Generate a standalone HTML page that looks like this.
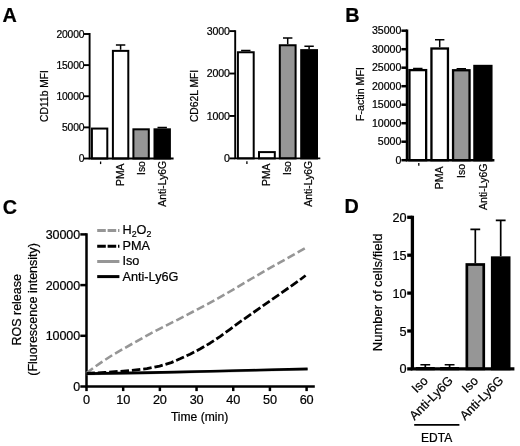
<!DOCTYPE html>
<html><head><meta charset="utf-8"><title>Figure</title>
<style>html,body{margin:0;padding:0;background:#fff}svg{display:block;filter:blur(0.45px)}text{font-family:"Liberation Sans",sans-serif;fill:#000;stroke:#000;stroke-width:0.22px}</style>
</head><body>
<svg width="520" height="446" viewBox="0 0 520 446">
<rect width="520" height="446" fill="#fff"/>
<text x="2.6" y="22.0" font-size="19.8" font-weight="bold" stroke-width="0.5">A</text>
<text x="345.2" y="22.0" font-size="19.8" font-weight="bold" stroke-width="0.5">B</text>
<text x="2.7" y="213.5" font-size="19.8" font-weight="bold" stroke-width="0.5">C</text>
<text x="344.6" y="212.9" font-size="19.8" font-weight="bold" stroke-width="0.5">D</text>
<rect x="91.9" y="128.56" width="15.4" height="29.94" fill="#fff" stroke="#000" stroke-width="2.0"/>
<path d="M120.6 49.87V45.02M115.9 45.02H125.3" stroke="#000" stroke-width="1.5" fill="none"/>
<rect x="112.9" y="50.87" width="15.4" height="107.63" fill="#fff" stroke="#000" stroke-width="2.0"/>
<rect x="133.4" y="129.31" width="15.4" height="29.19" fill="#969696" stroke="#000" stroke-width="2.0"/>
<path d="M162.2 128.31V127.5M157.5 127.5H166.9" stroke="#000" stroke-width="1.5" fill="none"/>
<rect x="154.5" y="129.31" width="15.4" height="29.19" fill="#000" stroke="#000" stroke-width="2.0"/>
<path d="M89.6 33.05V158.5M88.65 158.5H173.6" stroke="#000" stroke-width="1.9" fill="none"/>
<path d="M83.8 158.5H89.6" stroke="#000" stroke-width="1.9"/>
<text x="84.2" y="162.19" font-size="10.3" text-anchor="end" letter-spacing="-0.2">0</text>
<path d="M83.8 127.38H89.6" stroke="#000" stroke-width="1.9"/>
<text x="84.2" y="131.06" font-size="10.3" text-anchor="end" letter-spacing="-0.2">5000</text>
<path d="M83.8 96.25H89.6" stroke="#000" stroke-width="1.9"/>
<text x="84.2" y="99.94" font-size="10.3" text-anchor="end" letter-spacing="-0.2">10000</text>
<path d="M83.8 65.12H89.6" stroke="#000" stroke-width="1.9"/>
<text x="84.2" y="68.81" font-size="10.3" text-anchor="end" letter-spacing="-0.2">15000</text>
<path d="M83.8 34H89.6" stroke="#000" stroke-width="1.9"/>
<text x="84.2" y="37.69" font-size="10.3" text-anchor="end" letter-spacing="-0.2">20000</text>
<text transform="translate(47.6 70) rotate(-90)" font-size="10.3" text-anchor="end" >CD11b MFI</text>
<path d="M100.6 161.5V164.1" stroke="#000" stroke-width="1.3"/>
<text transform="translate(124.4 163.5) rotate(-90)" font-size="10.4" text-anchor="end" >PMA</text>
<text transform="translate(145.1 161.1) rotate(-90)" font-size="10.4" text-anchor="end" >Iso</text>
<text transform="translate(165.8 160.8) rotate(-90)" font-size="10.4" text-anchor="end" >Anti-Ly6G</text>
<path d="M245.8 51.26V50.49M241.1 50.49H250.5" stroke="#000" stroke-width="1.5" fill="none"/>
<rect x="237.9" y="52.26" width="15.8" height="106.14" fill="#fff" stroke="#000" stroke-width="2.0"/>
<rect x="259" y="152.1" width="15.8" height="6.3" fill="#fff" stroke="#000" stroke-width="2.0"/>
<path d="M287.7 44.25V37.89M283 37.89H292.4" stroke="#000" stroke-width="1.5" fill="none"/>
<rect x="279.8" y="45.25" width="15.8" height="113.15" fill="#969696" stroke="#000" stroke-width="2.0"/>
<path d="M309.1 49.13V46.25M304.4 46.25H313.8" stroke="#000" stroke-width="1.5" fill="none"/>
<rect x="301.2" y="50.13" width="15.8" height="108.27" fill="#000" stroke="#000" stroke-width="2.0"/>
<path d="M235.2 30.15V158.4M234.25 158.4H320.3" stroke="#000" stroke-width="1.9" fill="none"/>
<path d="M229.4 158.4H235.2" stroke="#000" stroke-width="1.9"/>
<text x="229.8" y="162.19" font-size="10.6" text-anchor="end" letter-spacing="-0.1">0</text>
<path d="M229.4 115.97H235.2" stroke="#000" stroke-width="1.9"/>
<text x="229.8" y="119.76" font-size="10.6" text-anchor="end" letter-spacing="-0.1">1000</text>
<path d="M229.4 73.53H235.2" stroke="#000" stroke-width="1.9"/>
<text x="229.8" y="77.33" font-size="10.6" text-anchor="end" letter-spacing="-0.1">2000</text>
<path d="M229.4 31.1H235.2" stroke="#000" stroke-width="1.9"/>
<text x="229.8" y="34.89" font-size="10.6" text-anchor="end" letter-spacing="-0.1">3000</text>
<text transform="translate(198.3 69.8) rotate(-90)" font-size="10.3" text-anchor="end" >CD62L MFI</text>
<path d="M246.9 161.3V163.9" stroke="#000" stroke-width="1.3"/>
<text transform="translate(270.4 163.5) rotate(-90)" font-size="10.4" text-anchor="end" >PMA</text>
<text transform="translate(291.3 161.1) rotate(-90)" font-size="10.4" text-anchor="end" >Iso</text>
<text transform="translate(312.4 160.8) rotate(-90)" font-size="10.4" text-anchor="end" >Anti-Ly6G</text>
<path d="M417.8 68.96V68.59M413.1 68.59H422.5" stroke="#000" stroke-width="1.5" fill="none"/>
<rect x="409.45" y="70.11" width="16.7" height="90.09" fill="#fff" stroke="#000" stroke-width="2.3"/>
<path d="M439.7 47.35V39.65M435 39.65H444.4" stroke="#000" stroke-width="1.5" fill="none"/>
<rect x="431.45" y="48.5" width="16.5" height="111.7" fill="#fff" stroke="#000" stroke-width="2.3"/>
<path d="M461.3 69.11V68.74M456.6 68.74H466" stroke="#000" stroke-width="1.5" fill="none"/>
<rect x="453.05" y="70.26" width="16.5" height="89.94" fill="#969696" stroke="#000" stroke-width="2.3"/>
<rect x="474.4" y="65.96" width="17" height="94.24" fill="#000" stroke="#000" stroke-width="2.3"/>
<path d="M407 29.45V160.2M405.75 160.2H494.4" stroke="#000" stroke-width="2.5" fill="none"/>
<path d="M401.4 160.2H407" stroke="#000" stroke-width="2.5"/>
<text x="401.4" y="163.99" font-size="10.6" text-anchor="end" letter-spacing="0">0</text>
<path d="M401.4 141.7H407" stroke="#000" stroke-width="2.5"/>
<text x="401.4" y="145.49" font-size="10.6" text-anchor="end" letter-spacing="0">5000</text>
<path d="M401.4 123.2H407" stroke="#000" stroke-width="2.5"/>
<text x="401.4" y="126.99" font-size="10.6" text-anchor="end" letter-spacing="0">10000</text>
<path d="M401.4 104.7H407" stroke="#000" stroke-width="2.5"/>
<text x="401.4" y="108.49" font-size="10.6" text-anchor="end" letter-spacing="0">15000</text>
<path d="M401.4 86.2H407" stroke="#000" stroke-width="2.5"/>
<text x="401.4" y="89.99" font-size="10.6" text-anchor="end" letter-spacing="0">20000</text>
<path d="M401.4 67.7H407" stroke="#000" stroke-width="2.5"/>
<text x="401.4" y="71.49" font-size="10.6" text-anchor="end" letter-spacing="0">25000</text>
<path d="M401.4 49.2H407" stroke="#000" stroke-width="2.5"/>
<text x="401.4" y="52.99" font-size="10.6" text-anchor="end" letter-spacing="0">30000</text>
<path d="M401.4 30.7H407" stroke="#000" stroke-width="2.5"/>
<text x="401.4" y="34.49" font-size="10.6" text-anchor="end" letter-spacing="0">35000</text>
<text transform="translate(363.6 94) rotate(-90)" font-size="10.7" text-anchor="middle" >F-actin MFI</text>
<path d="M418.8 163.1V165.7" stroke="#000" stroke-width="1.3"/>
<text transform="translate(443.3 166.4) rotate(-90)" font-size="10.5" text-anchor="end" >PMA</text>
<text transform="translate(465.3 164) rotate(-90)" font-size="10.5" text-anchor="end" >Iso</text>
<text transform="translate(486.6 163.6) rotate(-90)" font-size="10.5" text-anchor="end" >Anti-Ly6G</text>
<path d="M86.5 233.15V386.5M85.25 386.5H314.8" stroke="#000" stroke-width="2.5" fill="none"/>
<path d="M80.3 386.5H86.5" stroke="#000" stroke-width="2.5"/>
<text x="80.0" y="390.9" font-size="12.5" text-anchor="end" letter-spacing="-0.1">0</text>
<path d="M80.3 335.8H86.5" stroke="#000" stroke-width="2.5"/>
<text x="80.0" y="340.2" font-size="12.5" text-anchor="end" letter-spacing="-0.1">10000</text>
<path d="M80.3 285.1H86.5" stroke="#000" stroke-width="2.5"/>
<text x="80.0" y="289.5" font-size="12.5" text-anchor="end" letter-spacing="-0.1">20000</text>
<path d="M80.3 234.4H86.5" stroke="#000" stroke-width="2.5"/>
<text x="80.0" y="238.8" font-size="12.5" text-anchor="end" letter-spacing="-0.1">30000</text>
<path d="M86.5 386.5V391.1" stroke="#000" stroke-width="2.5"/>
<text x="86.5" y="404.3" font-size="12.7" text-anchor="middle" letter-spacing="-0.15">0</text>
<path d="M123.18 386.5V391.1" stroke="#000" stroke-width="2.5"/>
<text x="123.18" y="404.3" font-size="12.7" text-anchor="middle" letter-spacing="-0.15">10</text>
<path d="M159.87 386.5V391.1" stroke="#000" stroke-width="2.5"/>
<text x="159.87" y="404.3" font-size="12.7" text-anchor="middle" letter-spacing="-0.15">20</text>
<path d="M196.55 386.5V391.1" stroke="#000" stroke-width="2.5"/>
<text x="196.55" y="404.3" font-size="12.7" text-anchor="middle" letter-spacing="-0.15">30</text>
<path d="M233.23 386.5V391.1" stroke="#000" stroke-width="2.5"/>
<text x="233.23" y="404.3" font-size="12.7" text-anchor="middle" letter-spacing="-0.15">40</text>
<path d="M269.92 386.5V391.1" stroke="#000" stroke-width="2.5"/>
<text x="269.92" y="404.3" font-size="12.7" text-anchor="middle" letter-spacing="-0.15">50</text>
<path d="M306.6 386.5V391.1" stroke="#000" stroke-width="2.5"/>
<text x="306.6" y="404.3" font-size="12.7" text-anchor="middle" letter-spacing="-0.15">60</text>
<text x="199.6" y="420.6" font-size="12.1" text-anchor="middle">Time (min)</text>
<text transform="translate(20.8 309.8) rotate(-90)" font-size="12.5" text-anchor="middle" >ROS release</text>
<text transform="translate(37.2 309.4) rotate(-90)" font-size="12.5" text-anchor="middle" >(Fluorescence intensity)</text>
<path d="M86.4 373.9 L150 372.9 L210 371.5 L260 370.3 L307.6 369.2" stroke="#969696" stroke-width="2.6" fill="none"/>
<path d="M86.4 373.6 L150 372.6 L210 371.2 L260 370 L307.6 368.9" stroke="#000" stroke-width="2.6" fill="none"/>
<path d="M86.4 373.2 L93 368.2 L100.2 363.1 L112.5 355 L125 347.9 L137.5 340.8 L150 333.8 L159.6 328.8 L167.5 324.8 L177.5 319.8 L187.5 314.6 L197.5 309.3 L207.5 304.2 L217.5 298.7 L225 294.4 L236.2 287.8 L252.7 278 L267.5 269.4 L280 262.4 L307.7 246.6" stroke="#969696" stroke-width="2.6" stroke-dasharray="8.2 3.4" stroke-linejoin="round" fill="none"/>
<path d="M86.4 373.5 L105 372.4 L123.2 371.1 L131.9 370.4 L146.9 368.7 L159.6 366.1 L171.2 362.6 L180 358.8 L190 354.2 L200 349 L210 343.2 L220 336.6 L230 329.3 L240 321.9 L250 314.9 L260 307.9 L270 300.9 L280 293.9 L290 286.9 L300 279.8 L305.6 275.5" stroke="#000" stroke-width="2.8" stroke-dasharray="8.5 2.9" stroke-linejoin="round" fill="none"/>
<path d="M97.2 230.5H119.4" stroke="#969696" stroke-width="3.0" stroke-dasharray="8.6 1.8"/>
<text x="122.5" y="234.4" font-size="12.7">H<tspan font-size="8.8" dy="2.7">2</tspan><tspan dy="-2.7">O</tspan><tspan font-size="8.8" dy="2.7">2</tspan></text>
<path d="M97.2 246.3H119.4" stroke="#000" stroke-width="3.0" stroke-dasharray="8.6 1.8"/>
<text x="122.5" y="250.2" font-size="12.7">PMA</text>
<path d="M97.2 261.5H119.4" stroke="#969696" stroke-width="3.0"/>
<text x="122.5" y="265.4" font-size="12.7">Iso</text>
<path d="M97.2 276.6H119.4" stroke="#000" stroke-width="3.0"/>
<text x="122.5" y="280.5" font-size="12.7">Anti-Ly6G</text>
<path d="M425.3 367V364.73M420.4 364.73H430.2" stroke="#000" stroke-width="1.7" fill="none"/>
<rect x="417.15" y="368.36" width="16.3" height="0.54" fill="#969696" stroke="#000" stroke-width="2.7"/>
<path d="M449.6 367V364.73M444.7 364.73H454.5" stroke="#000" stroke-width="1.7" fill="none"/>
<rect x="441.45" y="368.36" width="16.3" height="0.54" fill="#000" stroke="#000" stroke-width="2.7"/>
<path d="M475.3 263.16V229.43M470.4 229.43H480.2" stroke="#000" stroke-width="1.7" fill="none"/>
<rect x="466.85" y="264.51" width="16.9" height="104.39" fill="#969696" stroke="#000" stroke-width="2.7"/>
<path d="M500.7 256.34V220.33M495.8 220.33H505.6" stroke="#000" stroke-width="1.7" fill="none"/>
<rect x="492.25" y="257.69" width="16.9" height="111.21" fill="#000" stroke="#000" stroke-width="2.7"/>
<path d="M412.4 215.65V368.9M410.75 368.9H514.4" stroke="#000" stroke-width="3.3" fill="none"/>
<path d="M407.2 368.9H412.4" stroke="#000" stroke-width="3.3"/>
<text x="406.4" y="373.45" font-size="12.7" text-anchor="end" letter-spacing="-0.1">0</text>
<path d="M407.2 331H412.4" stroke="#000" stroke-width="3.3"/>
<text x="406.4" y="335.55" font-size="12.7" text-anchor="end" letter-spacing="-0.1">5</text>
<path d="M407.2 293.1H412.4" stroke="#000" stroke-width="3.3"/>
<text x="406.4" y="297.65" font-size="12.7" text-anchor="end" letter-spacing="-0.1">10</text>
<path d="M407.2 255.2H412.4" stroke="#000" stroke-width="3.3"/>
<text x="406.4" y="259.75" font-size="12.7" text-anchor="end" letter-spacing="-0.1">15</text>
<path d="M407.2 217.3H412.4" stroke="#000" stroke-width="3.3"/>
<text x="406.4" y="221.85" font-size="12.7" text-anchor="end" letter-spacing="-0.1">20</text>
<text transform="translate(381.8 292.3) rotate(-90)" font-size="13" text-anchor="middle" >Number of cells/field</text>
<text transform="translate(428.6 381.6) rotate(-45)" font-size="12.6" text-anchor="end">Iso</text>
<text transform="translate(453.8 381.4) rotate(-45)" font-size="12.6" text-anchor="end">Anti-Ly6G</text>
<text transform="translate(479.0 381.6) rotate(-45)" font-size="12.6" text-anchor="end">Iso</text>
<text transform="translate(504.2 381.4) rotate(-45)" font-size="12.6" text-anchor="end">Anti-Ly6G</text>
<path d="M414.2 424.8H459.4" stroke="#000" stroke-width="1.7"/>
<text x="436.6" y="441.9" font-size="12" text-anchor="middle">EDTA</text>
</svg>
</body></html>
